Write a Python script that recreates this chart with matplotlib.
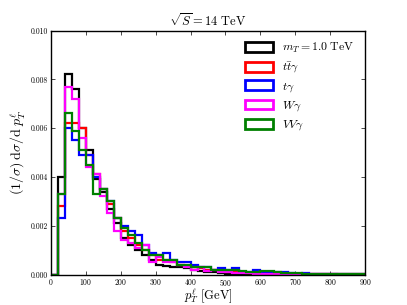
import numpy as np
import matplotlib
matplotlib.use("Agg")
import matplotlib.pyplot as plt

plt.rcParams['mathtext.fontset'] = 'cm'
plt.rcParams['font.family'] = 'serif'
plt.rcParams['font.serif'] = ['cmr10', 'DejaVu Serif']
plt.rcParams['axes.formatter.use_mathtext'] = True

# bin edges in GeV, 20 GeV bins
edges = np.arange(0, 920, 20)

signal = [0, 0.0040, 0.0082, 0.0076, 0.0060, 0.0051, 0.0039, 0.0034, 0.0027, 0.0021,
          0.0015, 0.0012, 0.0010, 0.0008, 0.0006, 0.0004, 0.00035, 0.0003, 0.0003, 0.00025,
          0.0002, 0.00015, 0.0001, 0.0001, 0.00005, 0.00004, 0.00003, 0.00003, 0.00002, 0.00002,
          0.00002, 0.00001, 0.00001, 0.00001, 0.00001, 0.00001, 0, 0, 0, 0,
          0, 0, 0, 0, 0]
ttgamma = [0, 0.0028, 0.0062, 0.0062, 0.0060, 0.0049, 0.0041, 0.0035, 0.0029, 0.0023,
           0.0018, 0.0015, 0.0012, 0.0010, 0.0008, 0.0006, 0.0006, 0.0005, 0.0004, 0.00035,
           0.0003, 0.00025, 0.0002, 0.0002, 0.00015, 0.00012, 0.0001, 0.0001, 0.00008, 0.00007,
           0.00006, 0.00005, 0.00004, 0.00004, 0.00003, 0.00003, 0.00002, 0.00002, 0.00002, 0.00001,
           0.00001, 0.00001, 0.00001, 0.00001, 0.00001]
tgamma = [0, 0.0023, 0.0060, 0.0055, 0.0049, 0.0049, 0.0040, 0.0035, 0.0030, 0.0023,
          0.0020, 0.0018, 0.0016, 0.0012, 0.0009, 0.0008, 0.0009, 0.0006, 0.0005, 0.0005,
          0.0004, 0.0003, 0.0003, 0.0002, 0.00025, 0.0002, 0.00025, 0.0001, 0.0001, 0.0002,
          0.0001, 0.0001, 0.0001, 0.0001, 0.00005, 0.00004, 0.00005, 0.00003, 0.00003, 0.00003,
          0.00002, 0.00002, 0.00002, 0.00001, 0.00001]
wgamma = [0, 0.0033, 0.0077, 0.0072, 0.0056, 0.0044, 0.0041, 0.0032, 0.0025, 0.0018,
          0.0014, 0.0013, 0.0011, 0.0012, 0.0005, 0.0007, 0.0005, 0.0005, 0.0004, 0.0003,
          0.0002, 0.0003, 0.00015, 0.0002, 0.0001, 0.0001, 0.00008, 0.00005, 0.00005, 0.00004,
          0.00004, 0.00003, 0.00003, 0.00002, 0.00002, 0.00002, 0.00001, 0.00001, 0.00001, 0.00001,
          0.00001, 0, 0, 0, 0]
vvgamma = [0, 0.0033, 0.0066, 0.0059, 0.0051, 0.0045, 0.0033, 0.0035, 0.0030, 0.0023,
           0.0019, 0.0016, 0.0013, 0.0010, 0.0008, 0.0008, 0.0006, 0.0006, 0.0004, 0.0004,
           0.0003, 0.0003, 0.0003, 0.0002, 0.0002, 0.0002, 0.0002, 0.00015, 0.0001, 0.0001,
           0.00015, 0.00015, 0.0001, 0.00008, 0.00005, 0.00005, 0.00004, 0.00003, 0.00003, 0.00002,
           0.00002, 0.00002, 0.00001, 0.00001, 0.00001]

labels = [r'$m_T = 1.0\ \mathrm{TeV}$', r'$t\bar{t}\gamma$', r'$t\gamma$', r'$W\gamma$', r'$VV\gamma$']
colors = ['black', 'red', 'blue', 'magenta', 'green']
series = [signal, ttgamma, tgamma, wgamma, vvgamma]

fig = plt.figure(figsize=(4.07, 3.05), dpi=100)
ax = fig.add_axes([0.125, 0.1, 0.772, 0.8])

for vals, col, lab in zip(series, colors, labels):
    ax.hist(edges[:-1], bins=edges, weights=vals, histtype='step',
            color=col, linewidth=1.6, label=lab)

ax.set_xlim(0, 900)
ax.set_ylim(0, 0.010)
ax.set_xticks(np.arange(0, 901, 100))
ax.set_yticks(np.arange(0, 0.0101, 0.002))
ax.set_yticklabels(['%.3f' % v for v in np.arange(0, 0.0101, 0.002)])
ax.tick_params(direction='in', top=True, right=True, labelsize=5.5, length=3, width=0.5, pad=2)
ax.tick_params(axis='x', pad=1.5)
for s in ax.spines.values():
    s.set_linewidth(1.0)

ax.set_title(r'$\sqrt{S} = 14\ \mathrm{TeV}$', fontsize=9, pad=3)
ax.set_xlabel(r'$p_T^\ell\ [\mathrm{GeV}]$', fontsize=9, labelpad=-0.5)
ax.set_ylabel(r'$(1/\sigma)\;\mathrm{d}\sigma/\mathrm{d}\;p_T^\ell$', fontsize=10, labelpad=3)

ax.legend(loc='upper right', frameon=False, fontsize=8.5, handlelength=2.4,
          handleheight=0.9, labelspacing=0.45, borderaxespad=0.5)
for h in ax.get_legend().legend_handles:
    h.set_linewidth(2.0)

fig.savefig('out.png', dpi=100)
